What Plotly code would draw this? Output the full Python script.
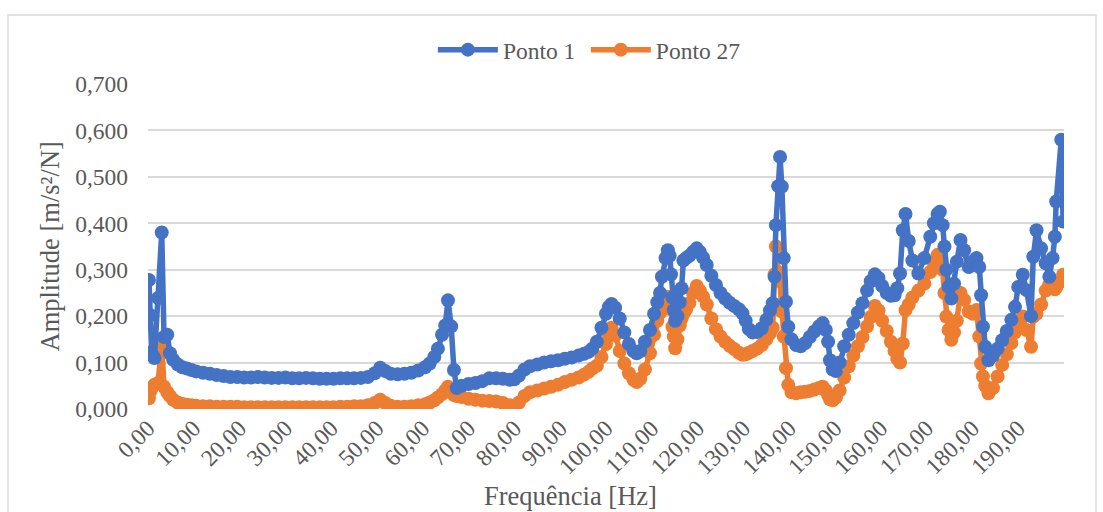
import plotly.graph_objects as go

# Frequency response measured at two points of the structure
freq = [
    0.2, 0.5, 0.8, 1.4, 2.2, 3.0, 3.5, 4.2, 4.8, 5.5, 6.5, 7.5, 8.5, 9.5, 10.5,
    12, 13.5, 15, 16.5, 18, 19.5, 21, 22.5, 24, 25.5, 27, 28.5, 30, 31.5, 33,
    34.5, 36, 37.5, 39, 40.5, 42, 43.5, 45, 46.5, 48,
    49.5, 50.7, 51.8, 53, 54.5, 56, 57.5, 59, 60.5, 61.5, 62.5, 63.3, 64.2, 64.9,
    65.5, 66.2, 66.8, 67.4, 68.5, 70, 71.5, 73, 74.5, 76, 77.5, 79, 80,
    81, 82.2, 83.4, 85, 86.5, 88, 89.5, 91, 92.5, 94, 95.2, 96.2, 97, 98,
    99, 100, 100.6, 101.2, 102, 103, 104, 105,
    106, 106.7, 107.5, 108.5, 109.6, 110.5, 111.2, 111.8, 112.2, 113.0, 113.5,
    113.9, 114.2, 114.5, 114.8, 115.1, 115.6, 116.1, 116.5, 116.9, 117.5, 118.2,
    119.0, 119.8, 120.5, 121.2, 122, 123, 124, 125, 126, 127, 128, 129, 129.8,
    130.5, 131.2, 132, 133, 134, 135, 135.8, 136.4, 136.8, 137.1, 137.6, 138.0,
    138.4, 138.8, 139.3, 139.8, 140.5, 141.5, 142.5, 143.5, 144.5, 145.5, 146.5,
    147.3, 148.0, 148.5, 148.9, 149.5, 150.2, 151, 152, 153, 154, 155, 156, 157,
    157.8, 158.7, 159.5, 160.3, 161.3, 162.2, 163.0, 163.6, 164.2, 164.8, 165.4,
    166.1, 166.9, 168.2, 169.5, 170.8, 171.6, 172.4, 172.9, 173.5, 173.9, 174.3,
    174.8, 175.4, 176.0, 176.6, 177.4, 178.2, 179.2, 180.1, 180.9, 181.5, 181.9,
    182.3, 182.8, 183.5, 184.5, 185.5, 186.5, 187.5, 188.5, 189.3, 190.0, 191.0,
    191.8, 192.8, 193.3, 194.0, 195.0, 196.0, 196.8, 197.5, 198.0, 198.3, 199.4,
    199.8,
]

ponto_1 = [
    0.278, 0.202, 0.123, 0.110, 0.239, 0.380, 0.155, 0.160, 0.120, 0.106, 0.096,
    0.090, 0.087, 0.084, 0.081,
    0.078, 0.076, 0.073, 0.071, 0.069, 0.069, 0.068, 0.068, 0.069, 0.068, 0.067,
    0.067, 0.068, 0.066, 0.066, 0.067, 0.066, 0.065, 0.065, 0.065, 0.066, 0.066,
    0.066, 0.067, 0.069,
    0.077, 0.089, 0.082, 0.076, 0.075, 0.076, 0.078, 0.083, 0.090, 0.098, 0.112,
    0.130, 0.160, 0.180,
    0.234, 0.178, 0.084, 0.045, 0.050, 0.054, 0.056, 0.060, 0.066, 0.066, 0.065,
    0.063, 0.064,
    0.072, 0.085, 0.092, 0.096, 0.100, 0.103, 0.105, 0.108, 0.111, 0.115, 0.119,
    0.123, 0.130, 0.145,
    0.175, 0.205, 0.220, 0.226, 0.218, 0.195, 0.165, 0.140,
    0.125, 0.120, 0.125, 0.145, 0.170, 0.205, 0.230, 0.250, 0.285, 0.325, 0.342,
    0.330, 0.290, 0.240, 0.213, 0.190, 0.200, 0.230, 0.260, 0.320, 0.325, 0.330,
    0.338, 0.346, 0.338, 0.326, 0.310, 0.287, 0.267, 0.250, 0.238, 0.229, 0.222,
    0.215, 0.206,
    0.190, 0.172, 0.165, 0.166, 0.174, 0.192, 0.212, 0.228, 0.285, 0.396, 0.480,
    0.543,
    0.479, 0.325, 0.231, 0.177, 0.150, 0.138, 0.135, 0.142, 0.155, 0.167, 0.178,
    0.185, 0.170, 0.145, 0.105, 0.085, 0.082, 0.100, 0.135, 0.160, 0.185, 0.208,
    0.228, 0.255,
    0.275, 0.290, 0.282, 0.265, 0.250, 0.244, 0.245, 0.260, 0.292, 0.385, 0.420,
    0.362, 0.320, 0.292, 0.325, 0.371, 0.400, 0.420, 0.425, 0.396, 0.350, 0.300,
    0.263, 0.238, 0.270, 0.317, 0.364, 0.342, 0.306, 0.318, 0.325, 0.306, 0.245,
    0.177, 0.134, 0.105, 0.115, 0.130, 0.148, 0.168, 0.192, 0.220, 0.263, 0.289,
    0.256, 0.200, 0.328, 0.385, 0.346, 0.314, 0.285, 0.325, 0.371, 0.447, 0.580,
    0.404,
]

ponto_27 = [
    0.023, 0.038, 0.045, 0.052, 0.056, 0.142, 0.048, 0.036, 0.028, 0.020, 0.014,
    0.011, 0.009, 0.008, 0.007,
    0.006, 0.006, 0.005, 0.005, 0.005, 0.005, 0.004, 0.004, 0.004, 0.004, 0.004,
    0.004, 0.004, 0.004, 0.004, 0.004, 0.004, 0.004, 0.004, 0.004, 0.005, 0.005,
    0.006, 0.006, 0.008,
    0.013, 0.020, 0.013, 0.007, 0.005, 0.005, 0.006, 0.008, 0.010, 0.014, 0.019,
    0.025, 0.032, 0.040,
    0.048, 0.036, 0.030, 0.028, 0.026, 0.022, 0.020, 0.018, 0.017, 0.016, 0.013,
    0.008, 0.006,
    0.014, 0.028, 0.036, 0.040, 0.044, 0.048, 0.052, 0.058, 0.063, 0.068, 0.074,
    0.080, 0.087, 0.093,
    0.112, 0.140, 0.160, 0.175, 0.158, 0.125, 0.098, 0.077,
    0.063, 0.058, 0.065, 0.085, 0.120, 0.160, 0.190, 0.207, 0.218, 0.235, 0.242,
    0.232, 0.215, 0.177, 0.156, 0.131, 0.150, 0.180, 0.195, 0.205, 0.215, 0.228,
    0.250, 0.265, 0.255, 0.242, 0.225, 0.195, 0.172, 0.156, 0.145, 0.136, 0.129,
    0.121, 0.117,
    0.118, 0.121, 0.125, 0.130, 0.138, 0.150, 0.163, 0.175, 0.290, 0.350, 0.295,
    0.275,
    0.210, 0.156, 0.088, 0.052, 0.036, 0.034, 0.036, 0.037, 0.039, 0.042, 0.045,
    0.048, 0.040, 0.030, 0.021, 0.019, 0.025, 0.040, 0.068, 0.092, 0.115, 0.135,
    0.155, 0.178,
    0.198, 0.222, 0.212, 0.190, 0.168, 0.145, 0.125, 0.108, 0.100, 0.141, 0.213,
    0.225, 0.240, 0.255, 0.270, 0.295, 0.314, 0.332, 0.318, 0.300, 0.250, 0.199,
    0.170, 0.149, 0.165, 0.190, 0.250, 0.235, 0.210, 0.205, 0.213, 0.156, 0.098,
    0.070, 0.050, 0.034, 0.045, 0.070, 0.095, 0.118, 0.142, 0.165, 0.185, 0.199,
    0.170, 0.134, 0.199, 0.205, 0.225, 0.255, 0.268, 0.270, 0.258, 0.262, 0.275,
    0.289,
]

x_ticks = list(range(0, 200, 10))
x_tick_text = [f"{v},00" for v in x_ticks]
y_ticks = [0.0, 0.1, 0.2, 0.3, 0.4, 0.5, 0.6, 0.7]
y_tick_text = [f"{v:.3f}".replace(".", ",") for v in y_ticks]

BLUE = "#4472C4"
ORANGE = "#ED7D31"
TEXT = "#595959"
GRID = "#D9D9D9"
FONT = "Liberation Serif"

fig = go.Figure()
# orange first so the blue series sits on top where they cross
fig.add_trace(go.Scatter(
    x=freq, y=ponto_27, name="Ponto 27", mode="lines+markers",
    line=dict(color=ORANGE, width=5.5),
    marker=dict(color=ORANGE, size=14),
    legend="legend2",
))
fig.add_trace(go.Scatter(
    x=freq, y=ponto_1, name="Ponto 1", mode="lines+markers",
    line=dict(color=BLUE, width=5.5),
    marker=dict(color=BLUE, size=14),
    legend="legend",
))

legend_style = dict(
    orientation="h", yanchor="middle", y=1.105, xanchor="left",
    itemwidth=60, font=dict(family=FONT, color=TEXT, size=23.5),
    bgcolor="rgba(0,0,0,0)",
)

fig.update_layout(
    width=1103, height=512,
    margin=dict(l=148, r=39, t=84, b=103),
    paper_bgcolor="white", plot_bgcolor="white",
    font=dict(family=FONT, color=TEXT, size=23.5),
    showlegend=True,
    legend=dict(x=0.311, **legend_style),
    legend2=dict(x=0.478, **legend_style),
    xaxis=dict(
        range=[0, 200], tickmode="array", tickvals=x_ticks, ticktext=x_tick_text,
        tickangle=-45, showgrid=False, zeroline=False, showline=False,
        ticks="", tickfont=dict(family=FONT, color=TEXT, size=23.5),
        fixedrange=True,
    ),
    yaxis=dict(
        range=[0, 0.7], tickmode="array", tickvals=y_ticks, ticktext=y_tick_text,
        showgrid=True, gridcolor=GRID, gridwidth=1.5, zeroline=False,
        showline=False, ticks="", ticklabelstandoff=19,
        tickfont=dict(family=FONT, color=TEXT, size=23.5),
        fixedrange=True,
    ),
    annotations=[
        dict(text="Amplitude [m/s²/N]", textangle=-90, showarrow=False,
             xref="paper", yref="paper", x=-0.107, y=0.5,
             xanchor="center", yanchor="middle",
             font=dict(family=FONT, color=TEXT, size=26.5)),
        dict(text="Frequência [Hz]", showarrow=False,
             xref="paper", yref="paper", x=0.4607, y=-0.268,
             xanchor="center", yanchor="middle",
             font=dict(family=FONT, color=TEXT, size=26.5)),
    ],
    shapes=[
        dict(type="rect", xref="paper", yref="paper",
             x0=-140 / 916, x1=1096 / 916 - 148 / 916,
             y0=(409 - 530) / 325, y1=(409 - 15) / 325,
             line=dict(color=GRID, width=1.5), fillcolor="rgba(0,0,0,0)",
             layer="below"),
    ],
)

fig.write_html("out.html")
